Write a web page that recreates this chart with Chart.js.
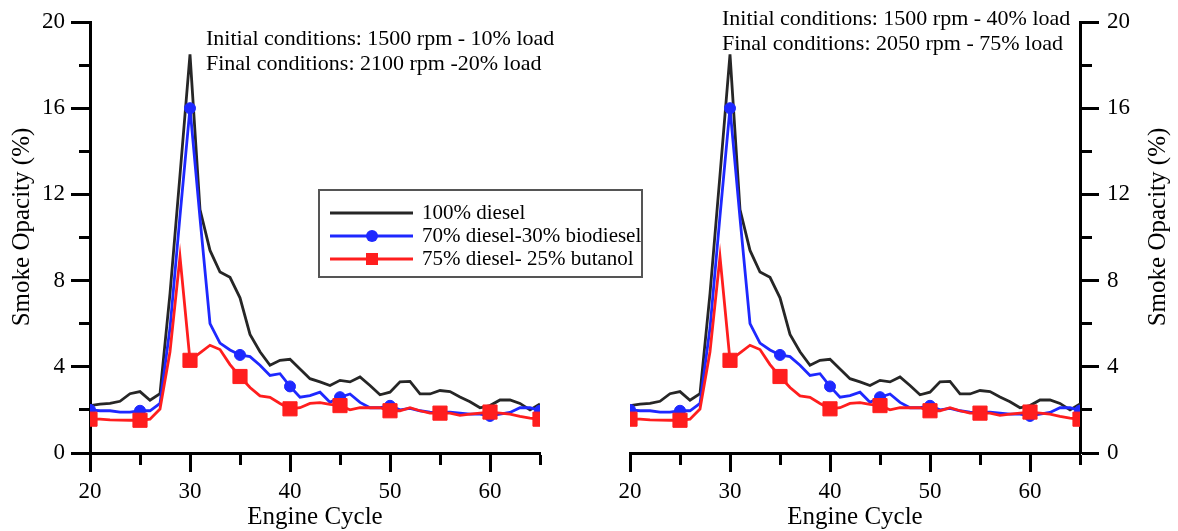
<!DOCTYPE html>
<html>
<head>
<meta charset="utf-8">
<script src="https://cdn.jsdelivr.net/npm/chart.js@4.4.1/dist/chart.umd.min.js"></script>
<style>
  body { margin: 0; background: #fff; }
  #contenedor { position: relative; width: 1178px; height: 531px; overflow: hidden; }
  #contenedor canvas { position: absolute; top: 0; }
  #graficoIzq { left: 0; z-index: 2; }
  #graficoDer { left: 590px; z-index: 1; }
</style>
</head>
<body>
<div id="contenedor">
  <canvas id="graficoIzq" width="650" height="531"></canvas>
  <canvas id="graficoDer" width="588" height="531"></canvas>
</div>
<script>
// Engine cycles (x axis)
let ciclos = [20, 21, 22, 23, 24, 25, 26, 27, 28, 29,
  30, 31, 32, 33, 34, 35, 36, 37, 38, 39,
  40, 41, 42, 43, 44, 45, 46, 47, 48, 49,
  50, 51, 52, 53, 54, 55, 56, 57, 58, 59,
  60, 61, 62, 63, 64, 65];

// Smoke opacity (%) for each fuel
let diesel100 = [2.2, 2.27, 2.3, 2.4, 2.75, 2.85, 2.45, 2.75, 7.4, 12.9,
  18.5, 11.3, 9.4, 8.4, 8.15, 7.2, 5.5, 4.7, 4.07, 4.3,
  4.35, 3.9, 3.45, 3.3, 3.13, 3.37, 3.3, 3.53, 3.13, 2.7,
  2.82, 3.3, 3.32, 2.74, 2.74, 2.9, 2.85, 2.6, 2.38, 2.1,
  2.2, 2.46, 2.46, 2.3, 2.0, 2.27];

let biodiesel30 = [2.0, 1.96, 1.96, 1.9, 1.9, 1.96, 1.96, 2.3, 5.8, 11.0,
  16.0, 10.9, 6.0, 5.1, 4.78, 4.55, 4.47, 4.07, 3.6, 3.68,
  3.09, 2.59, 2.66, 2.82, 2.35, 2.59, 2.74, 2.35, 2.1, 2.1,
  2.19, 2.0, 2.07, 1.96, 1.9, 1.88, 1.9, 1.85, 1.8, 1.8,
  1.72, 1.8, 1.88, 2.1, 2.1, 1.96];

let butanol25 = [1.57, 1.57, 1.54, 1.53, 1.52, 1.52, 1.57, 2.04, 4.7, 9.1,
  4.3, 4.65, 5.0, 4.8, 4.1, 3.55, 3.04, 2.65, 2.58, 2.3,
  2.05, 2.1, 2.3, 2.34, 2.26, 2.2, 2.0, 2.1, 2.1, 2.1,
  1.96, 1.96, 2.1, 1.96, 1.85, 1.85, 1.85, 1.75, 1.8, 1.85,
  1.9, 1.85, 1.8, 1.7, 1.62, 1.57];

let nombresSeries = ['100% diesel', '70% diesel-30% biodiesel', '75% diesel- 25% butanol'];
let ticksX = [20, 30, 40, 50, 60];          // labelled x ticks
let ticksY = [0, 4, 8, 12, 16, 20];         // labelled y ticks
let textoIzq = ['Initial conditions: 1500 rpm - 10% load', 'Final conditions: 2100 rpm -20% load'];
let textoDer = ['Initial conditions: 1500 rpm - 40% load', 'Final conditions: 2050 rpm - 75% load'];
let tituloX = 'Engine Cycle';
let tituloY = 'Smoke Opacity (%)';

let fuente = "'Liberation Serif', 'Times New Roman', serif";

// markers only every 5 cycles
function ConMarca(ctx) {
  return ciclos[ctx.dataIndex] % 5 === 0;
}

function CrearSeries() {
  let puntos = (valores) => ciclos.map((c, i) => ({ x: c, y: valores[i] }));
  return [
    {
      label: nombresSeries[0],
      data: puntos(diesel100),
      borderColor: '#262626',
      backgroundColor: '#262626',
      borderWidth: 2.8,
      pointRadius: 0,
      order: 3
    },
    {
      label: nombresSeries[1],
      data: puntos(biodiesel30),
      borderColor: 'rgb(30,40,255)',
      backgroundColor: 'rgb(30,40,255)',
      borderWidth: 2.8,
      pointStyle: 'circle',
      pointRadius: (ctx) => ConMarca(ctx) ? 5.5 : 0,
      pointBorderWidth: 1,
      order: 2
    },
    {
      label: nombresSeries[2],
      data: puntos(butanol25),
      borderColor: 'rgb(255,30,30)',
      backgroundColor: 'rgb(255,30,30)',
      borderWidth: 2.8,
      pointStyle: 'rect',
      pointRadius: (ctx) => ConMarca(ctx) ? 10 : 0,
      pointBorderWidth: 1,
      order: 1
    }
  ];
}

// conditions text at the top of each panel
const pluginTexto = {
  id: 'textoCondiciones',
  afterDraw(chart, args, opts) {
    let ctx = chart.ctx;
    ctx.save();
    ctx.font = '22px ' + fuente;
    ctx.fillStyle = '#000';
    ctx.textBaseline = 'alphabetic';
    opts.lineas.forEach((linea, i) => ctx.fillText(linea, opts.x, opts.y + i * 25));
    ctx.restore();
  }
};

// y axis title, always reading bottom to top
const pluginTituloY = {
  id: 'tituloY',
  afterDraw(chart, args, opts) {
    let ctx = chart.ctx;
    ctx.save();
    ctx.translate(opts.x, opts.y);
    ctx.rotate(-Math.PI / 2);
    ctx.font = '25px ' + fuente;
    ctx.fillStyle = '#000';
    ctx.textAlign = 'center';
    ctx.textBaseline = 'middle';
    ctx.fillText(tituloY, 0, 0);
    ctx.restore();
  }
};

// boxed legend in the middle of the figure
const pluginLeyenda = {
  id: 'leyendaCaja',
  afterDraw(chart, args, opts) {
    let ctx = chart.ctx;
    ctx.save();
    ctx.fillStyle = '#fff';
    ctx.fillRect(opts.x, opts.y, opts.ancho, opts.alto);
    ctx.strokeStyle = '#555';
    ctx.lineWidth = 2;
    ctx.strokeRect(opts.x, opts.y, opts.ancho, opts.alto);

    chart.data.datasets.forEach((ds, i) => {
      let y = opts.y + 23 + i * 23;
      ctx.strokeStyle = ds.borderColor;
      ctx.lineWidth = 3;
      ctx.beginPath();
      ctx.moveTo(opts.x + 11, y);
      ctx.lineTo(opts.x + 94, y);
      ctx.stroke();

      ctx.fillStyle = ds.backgroundColor;
      if (ds.pointStyle === 'circle') {
        ctx.beginPath();
        ctx.arc(opts.x + 53, y, 6, 0, Math.PI * 2);
        ctx.fill();
      } else if (ds.pointStyle === 'rect') {
        ctx.fillRect(opts.x + 47, y - 6, 12, 12);
      }

      ctx.fillStyle = '#000';
      ctx.font = '21px ' + fuente;
      ctx.textBaseline = 'middle';
      ctx.fillText(ds.label, opts.x + 103, y);
    });
    ctx.restore();
  }
};

function OpcionesEjes(ladoY, anchoY) {
  let fuenteTicks = { family: fuente, size: 23 };
  return {
    x: {
      type: 'linear',
      min: 20,
      max: 65,
      border: { display: true, color: '#000', width: 3 },
      grid: {
        drawOnChartArea: false,
        tickLength: 19,
        tickWidth: 3,
        tickColor: '#000',
        tickBorderDash: (ctx) => (ctx.tick && !ticksX.includes(ctx.tick.value)) ? [10, 40] : []
      },
      ticks: {
        stepSize: 5,
        autoSkip: false,
        maxRotation: 0,
        color: '#000',
        font: fuenteTicks,
        padding: 6,
        callback: (v) => ticksX.includes(v) ? v : ''
      },
      title: {
        display: true,
        text: tituloX,
        color: '#000',
        font: { family: fuente, size: 25, lineHeight: 1.05 },
        padding: 0
      },
      afterFit: (s) => { s.height = 78; }
    },
    y: {
      type: 'linear',
      position: ladoY,
      min: 0,
      max: 20,
      border: { display: true, color: '#000', width: 3 },
      grid: {
        drawOnChartArea: false,
        tickLength: 19,
        tickWidth: 3,
        tickColor: '#000',
        tickBorderDash: (ctx) => {
          if (!ctx.tick || ticksY.includes(ctx.tick.value)) return [];
          return ladoY === 'left' ? [0, 8, 30] : [10, 40]; // short minor ticks
        }
      },
      ticks: {
        stepSize: 2,
        autoSkip: false,
        color: '#000',
        font: fuenteTicks,
        padding: ladoY === 'left' ? 6 : 8,
        callback: (v) => ticksY.includes(v) ? v : ''
      },
      title: { display: false },
      afterFit: (s) => { s.width = anchoY; }
    }
  };
}

function CrearGrafico(idCanvas, ladoY, anchoY, relleno, texto, posTexto, posTitulo, conLeyenda) {
  let ctx = document.getElementById(idCanvas);
  let plugins = [pluginTexto, pluginTituloY];
  if (conLeyenda) plugins.push(pluginLeyenda);

  return new Chart(ctx, {
    type: 'line',
    data: { datasets: CrearSeries() },
    options: {
      responsive: false,
      animation: false,
      devicePixelRatio: 1,
      layout: { padding: relleno },
      elements: { line: { tension: 0 } },
      scales: OpcionesEjes(ladoY, anchoY),
      plugins: {
        legend: { display: false },
        tooltip: { enabled: false },
        textoCondiciones: { lineas: texto, x: posTexto.x, y: posTexto.y },
        tituloY: { x: posTitulo.x, y: posTitulo.y },
        leyendaCaja: { x: 319, y: 190, ancho: 323, alto: 87 }
      }
    },
    plugins: plugins
  });
}

// left panel (axis on the left, holds the legend)
CrearGrafico('graficoIzq', 'left', 90, { top: 22, right: 110, bottom: 0, left: 0 },
  textoIzq, { x: 206, y: 45 }, { x: 22, y: 227 }, true);

// right panel (axis on the right)
CrearGrafico('graficoDer', 'right', 98, { top: 22, right: 0, bottom: 0, left: 40 },
  textoDer, { x: 132, y: 25 }, { x: 568, y: 227 }, false);
</script>
</body>
</html>
